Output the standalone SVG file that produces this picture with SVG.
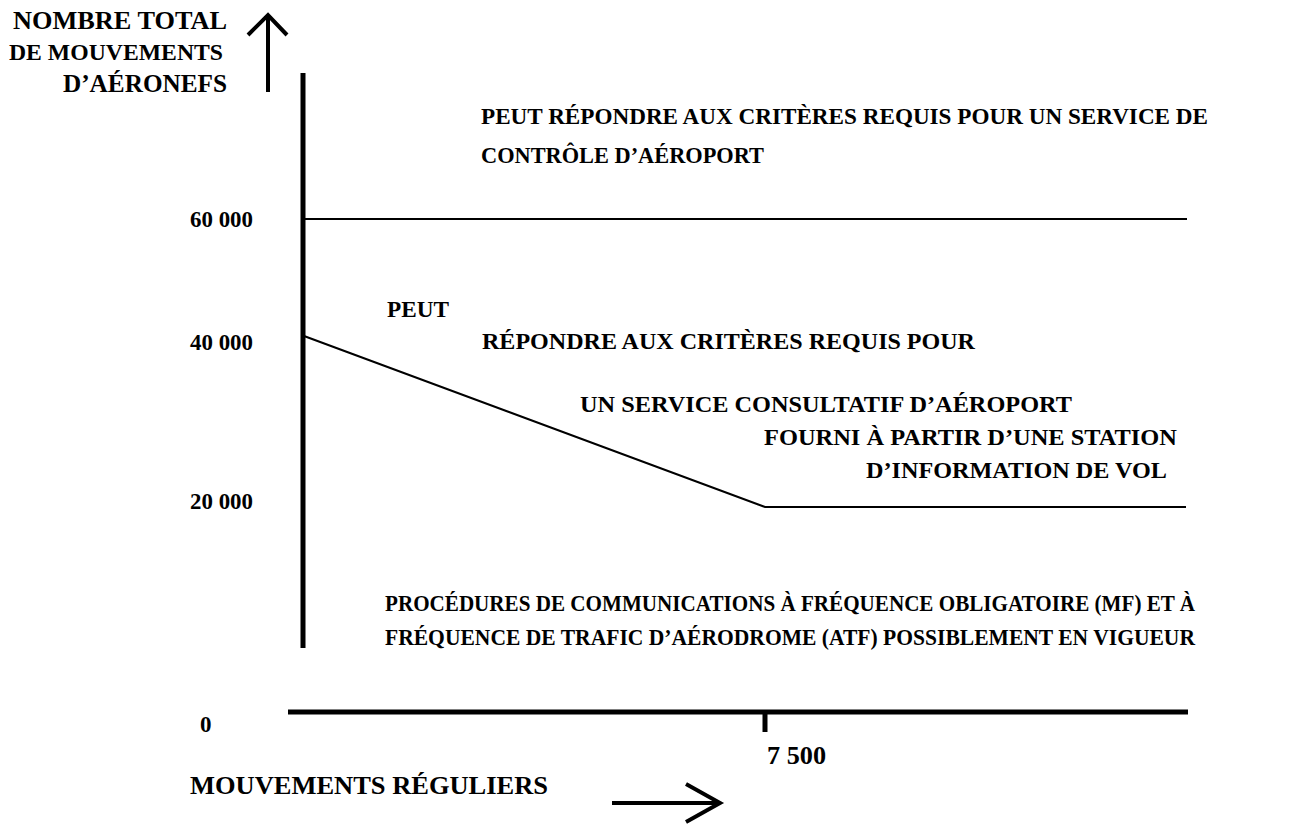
<svg xmlns="http://www.w3.org/2000/svg" width="1314" height="829" viewBox="0 0 1314 829">
<style>
text{font-family:"Liberation Serif","Times New Roman",serif;font-weight:bold;font-size:23px;fill:#000}
.t{font-size:25px}
.b{font-size:26px}
.ax{stroke:#000;stroke-width:5;fill:none}
.ln{stroke:#000;stroke-width:2;fill:none}
.ar{stroke:#000;stroke-width:4;fill:none}
</style>
<rect width="1314" height="829" fill="#fff"/>
<g id="connectors">
<line class="ax" x1="303" y1="73" x2="303" y2="648"/>
<line class="ax" x1="288" y1="712" x2="1188" y2="712"/>
<line class="ax" x1="765" y1="712" x2="765" y2="732"/>
<line class="ln" x1="303" y1="219" x2="1187" y2="219"/>
<polyline class="ln" points="304,336 765,507 1186,507"/>
<line class="ar" x1="268" y1="92" x2="268" y2="16"/>
<polyline class="ar" points="248,35 268,15 287,35"/>
<line class="ar" x1="612" y1="803" x2="720" y2="803"/>
<polyline class="ar" points="686,784 720,803 686,822"/>
</g>
<g id="y-title">
<text class="t" x="13" y="29" textLength="214" lengthAdjust="spacingAndGlyphs">NOMBRE TOTAL</text>
<text x="9" y="60" textLength="214" lengthAdjust="spacingAndGlyphs">DE MOUVEMENTS</text>
<text class="t" x="63" y="92" textLength="164" lengthAdjust="spacingAndGlyphs">D’AÉRONEFS</text>
</g>
<g id="y-labels">
<text x="190" y="227" textLength="63" lengthAdjust="spacingAndGlyphs">60 000</text>
<text x="190" y="350" textLength="63" lengthAdjust="spacingAndGlyphs">40 000</text>
<text x="190" y="509" textLength="63" lengthAdjust="spacingAndGlyphs">20 000</text>
<text x="200" y="732">0</text>
</g>
<g id="x-labels">
<text class="b" x="767" y="764" textLength="59" lengthAdjust="spacingAndGlyphs">7 500</text>
<text class="b" x="190" y="794" textLength="358" lengthAdjust="spacingAndGlyphs">MOUVEMENTS RÉGULIERS</text>
</g>
<g id="zone-top">
<text x="481" y="124" textLength="727" lengthAdjust="spacingAndGlyphs">PEUT RÉPONDRE AUX CRITÈRES REQUIS POUR UN SERVICE DE</text>
<text x="481" y="163" textLength="283" lengthAdjust="spacingAndGlyphs">CONTRÔLE D’AÉROPORT</text>
</g>
<g id="zone-middle">
<text x="387" y="317" textLength="62" lengthAdjust="spacingAndGlyphs">PEUT</text>
<text x="482" y="349" textLength="493" lengthAdjust="spacingAndGlyphs">RÉPONDRE AUX CRITÈRES REQUIS POUR</text>
<text x="580" y="412" textLength="492" lengthAdjust="spacingAndGlyphs">UN SERVICE CONSULTATIF D’AÉROPORT</text>
<text x="764" y="445" textLength="413" lengthAdjust="spacingAndGlyphs">FOURNI À PARTIR D’UNE STATION</text>
<text x="866" y="478" textLength="301" lengthAdjust="spacingAndGlyphs">D’INFORMATION DE VOL</text>
</g>
<g id="zone-bottom">
<text x="385" y="611" textLength="810" lengthAdjust="spacingAndGlyphs">PROCÉDURES DE COMMUNICATIONS À FRÉQUENCE OBLIGATOIRE (MF) ET À</text>
<text x="385" y="645" textLength="810" lengthAdjust="spacingAndGlyphs">FRÉQUENCE DE TRAFIC D’AÉRODROME (ATF) POSSIBLEMENT EN VIGUEUR</text>
</g>
</svg>
